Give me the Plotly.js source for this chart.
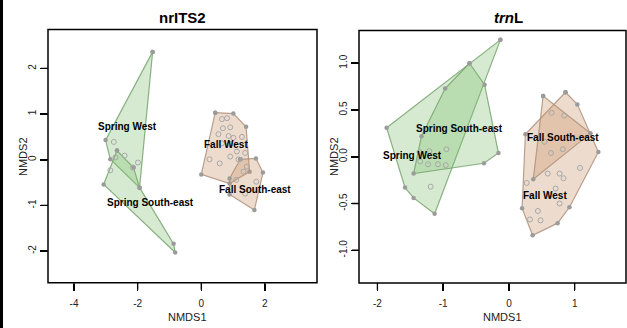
<!DOCTYPE html>
<html><head><meta charset="utf-8">
<script src="https://cdn.plot.ly/plotly-3.0.1.min.js"></script>
<style>html,body{margin:0;padding:0;background:#fff;} #chart{width:627px;height:328px;}</style>
</head><body><div id="chart"></div>
<script>
// ---------- nrITS2 panel (left) ----------
const itsGroups = ["Spring West", "Spring South-east", "Fall West", "Fall South-east"];
const itsSpringWestX = [-1.53, -3.01, -2.86, -1.94];
const itsSpringWestY = [2.36, 0.43, 0.01, -0.61];
const itsSpringSEX = [-2.65, -3.07, -0.82, -0.87, -1.94, -2.13];
const itsSpringSEY = [0.20, -0.54, -2.03, -1.84, -0.61, -0.17];
const itsFallWestX = [0.44, 1.01, 1.41, 1.52, 0.89, 0.00];
const itsFallWestY = [1.03, 1.01, 0.72, -0.26, -0.52, -0.32];
const itsFallSEX = [1.23, 1.72, 1.94, 1.67, 0.89, 0.89];
const itsFallSEY = [0.01, 0.03, -0.28, -1.10, -0.76, -0.41];
const itsPointsX = [-2.75, -2.41, -1.99, -2.86, -2.70, -2.15,
  0.65, 0.81, 0.68, 0.91, 0.54, 0.86, 1.01, 1.28, 0.65, 0.91, 1.12, 1.38, 0.26, 0.58, 0.91, 1.17, 1.43, 1.33,
  1.73, 1.38, 1.10];
const itsPointsY = [0.39, 0.09, -0.06, -0.23, 0.05, -0.17,
  0.89, 0.91, 0.69, 0.71, 0.56, 0.52, 0.48, 0.50, 0.36, 0.34, 0.18, 0.15, 0.01, -0.08, 0.07, 0.01, -0.15, -0.26,
  -0.48, -0.74, -0.44];
const itsLabelX = [-2.33, -1.60, 0.79, 1.70];
const itsLabelY = [0.72, -0.93, 0.34, -0.65];
const itsXTicks = [-4, -2, 0, 2];
const itsXTickText = ["-4", "-2", "0", "2"];
const itsYTicks = [-2, -1, 0, 1, 2];
const itsYTickText = ["-2", "-1", "0", "1", "2"];

// ---------- trnL panel (right) ----------
const trnGroups = ["Spring West", "Spring South-east", "Fall West", "Fall South-east"];
const trnSpringWestX = [-0.13, -1.86, -1.58, -1.45, -1.13];
const trnSpringWestY = [1.25, 0.31, -0.33, -0.44, -0.61];
const trnSpringSEX = [-0.60, -0.37, -0.16, -0.38, -1.45, -1.33, -0.97];
const trnSpringSEY = [1.00, 0.77, 0.04, -0.07, -0.18, 0.22, 0.73];
const trnFallWestX = [0.86, 1.04, 1.36, 0.92, 0.74, 0.36, 0.20, 0.25];
const trnFallWestY = [0.69, 0.56, 0.05, -0.54, -0.71, -0.84, -0.55, 0.24];
const trnFallSEX = [0.52, 1.24, 0.37];
const trnFallSEY = [0.65, 0.25, -0.24];
const trnPointsX = [-1.36, -1.21, -1.35, -1.23, -1.08, -0.95, -0.96, -1.19,
  0.65, 0.84, 0.54, 0.64, 0.82, 1.08, 0.59, 0.77, 0.83, 0.27, 0.71, 0.77, 0.44, 0.48, 0.32, 0.62];
const trnPointsY = [0.05, 0.06, -0.05, -0.08, -0.08, 0.08, -0.09, -0.32,
  0.47, 0.44, 0.16, 0.04, 0.08, -0.12, -0.18, -0.18, -0.23, -0.28, -0.34, -0.50, -0.58, -0.68, -0.67, -0.41];
const trnLabelX = [-1.46, -0.75, 0.55, 0.82];
const trnLabelY = [0.01, 0.30, -0.41, 0.21];
const trnXTicks = [-2, -1, 0, 1];
const trnXTickText = ["-2", "-1", "0", "1"];
const trnYTicks = [-1, -0.5, 0, 0.5, 1];
const trnYTickText = ["-1.0", "-0.5", "0.0", "0.5", "1.0"];

// ---------- styles ----------
const greenFill = "rgba(128,191,113,0.33)";
const greenLine = "rgba(120,165,110,0.85)";
const tanFill = "rgba(200,149,104,0.33)";
const tanLine = "rgba(175,145,125,0.85)";
const vertexColor = "#9b9b9b";

function hull(xs, ys, fill, line, xa, ya) {
  return {
    type: "scatter", mode: "lines+markers",
    x: xs.concat([xs[0]]), y: ys.concat([ys[0]]),
    xaxis: xa, yaxis: ya,
    fill: "toself", fillcolor: fill,
    line: {color: line, width: 1.2},
    marker: {color: vertexColor, size: 4.5},
    hoverinfo: "skip", showlegend: false
  };
}
function pts(xs, ys, xa, ya) {
  return {
    type: "scatter", mode: "markers", x: xs, y: ys, xaxis: xa, yaxis: ya,
    marker: {symbol: "circle-open", color: "#a8a8a8", size: 5, line: {width: 1}},
    hoverinfo: "skip", showlegend: false
  };
}

const data = [
  hull(itsSpringWestX, itsSpringWestY, greenFill, greenLine, "x", "y"),
  hull(itsSpringSEX, itsSpringSEY, greenFill, greenLine, "x", "y"),
  hull(itsFallWestX, itsFallWestY, tanFill, tanLine, "x", "y"),
  hull(itsFallSEX, itsFallSEY, tanFill, tanLine, "x", "y"),
  pts(itsPointsX, itsPointsY, "x", "y"),
  hull(trnSpringWestX, trnSpringWestY, greenFill, greenLine, "x2", "y2"),
  hull(trnSpringSEX, trnSpringSEY, greenFill, greenLine, "x2", "y2"),
  hull(trnFallWestX, trnFallWestY, tanFill, tanLine, "x2", "y2"),
  hull(trnFallSEX, trnFallSEY, tanFill, tanLine, "x2", "y2"),
  pts(trnPointsX, trnPointsY, "x2", "y2")
];

const W = 627, H = 328;
const px = v => v / W, py = v => 1 - v / H;
const fontFam = "Liberation Sans, Arial, Helvetica, sans-serif";
const TICK = 7;

function axisBase(extra) {
  return Object.assign({
    showgrid: false, zeroline: false, showline: false,
    ticks: "outside", ticklen: TICK, tickwidth: 1.5,
    tickcolor: "#000000", tickfont: {size: 10, color: "#222", family: fontFam}
  }, extra);
}

function ann(o) {
  return Object.assign({showarrow: false, xanchor: "center", yanchor: "middle"}, o);
}

const annotations = [];
itsGroups.forEach((g, i) => annotations.push(ann({x: itsLabelX[i], y: itsLabelY[i], xref: "x", yref: "y",
  text: "<b>" + g + "</b>", font: {size: 10, color: "#000", family: fontFam}})));
trnGroups.forEach((g, i) => annotations.push(ann({x: trnLabelX[i], y: trnLabelY[i], xref: "x2", yref: "y2",
  text: "<b>" + g + "</b>", font: {size: 10, color: "#000", family: fontFam}})));
annotations.push(
  ann({x: px(182), y: py(17), xref: "paper", yref: "paper", text: "<b>nrITS2</b>",
   font: {size: 15, color: "#000", family: fontFam}}),
  ann({x: px(508), y: py(17), xref: "paper", yref: "paper", text: "<b><i>trn</i>L</b>",
   font: {size: 15, color: "#000", family: fontFam}}),
  ann({x: px(188), y: py(317), xref: "paper", yref: "paper", text: "NMDS1",
   font: {size: 11, color: "#222", family: fontFam}}),
  ann({x: px(502), y: py(317), xref: "paper", yref: "paper", text: "NMDS1",
   font: {size: 11, color: "#222", family: fontFam}}),
  ann({x: px(23), y: py(157), xref: "paper", yref: "paper", text: "NMDS2", textangle: -90,
   font: {size: 11, color: "#222", family: fontFam}}),
  ann({x: px(334), y: py(157), xref: "paper", yref: "paper", text: "NMDS2", textangle: -90,
   font: {size: 11, color: "#222", family: fontFam}})
);

// panel boxes in pixels
const leftBox = {x0: 48, x1: 317, top: 29.5, bottom: 282.7};
const rightBox = {x0: 359, x1: 626, top: 30.5, bottom: 283};

const frame = (xr, yr) => ({type: "rect", xref: xr + " domain", yref: yr + " domain",
  x0: 0, x1: 1, y0: 0, y1: 1, line: {color: "#000", width: 1.5}, fillcolor: "rgba(0,0,0,0)", layer: "above"});

function tickShapes(xr, yr, xt, yt, box) {
  const hFrac = TICK / (box.bottom - box.top), wFrac = TICK / (box.x1 - box.x0);
  const out = [];
  xt.forEach(v => out.push({type: "line", xref: xr, yref: yr + " domain", x0: v, x1: v, y0: 0, y1: -hFrac,
    line: {color: "#000", width: 1.3}, layer: "above"}));
  yt.forEach(v => out.push({type: "line", xref: xr + " domain", yref: yr, x0: 0, x1: -wFrac, y0: v, y1: v,
    line: {color: "#000", width: 1.3}, layer: "above"}));
  return out;
}

const layout = {
  width: W, height: H, margin: {l: 0, r: 0, t: 0, b: 0},
  paper_bgcolor: "#fff", plot_bgcolor: "#fff", showlegend: false,
  font: {family: fontFam},
  xaxis: axisBase({domain: [px(leftBox.x0), px(leftBox.x1)], range: [-4.82, 3.64], tickvals: itsXTicks,
    ticktext: itsXTickText, anchor: "y", ticklabelstandoff: 4}),
  yaxis: axisBase({domain: [py(leftBox.bottom), py(leftBox.top)], range: [-2.69, 2.85], tickvals: itsYTicks,
    ticktext: itsYTickText, tickangle: -90, anchor: "x"}),
  xaxis2: axisBase({domain: [px(rightBox.x0), px(rightBox.x1)], range: [-2.28, 1.78], tickvals: trnXTicks,
    ticktext: trnXTickText, anchor: "y2", ticklabelstandoff: 4}),
  yaxis2: axisBase({domain: [py(rightBox.bottom), py(rightBox.top)], range: [-1.35, 1.35], tickvals: trnYTicks,
    ticktext: trnYTickText, tickangle: -90, anchor: "x2"}),
  annotations: annotations,
  shapes: [
    {type: "rect", xref: "paper", yref: "paper", x0: 0, x1: px(3), y0: 0, y1: 1,
     fillcolor: "#000", line: {width: 0}},
    frame("x", "y"), frame("x2", "y2")
  ].concat(tickShapes("x", "y", itsXTicks, itsYTicks, leftBox))
   .concat(tickShapes("x2", "y2", trnXTicks, trnYTicks, rightBox))
};

Plotly.newPlot("chart", data, layout, {staticPlot: true, displayModeBar: false});
</script>
</body></html>
